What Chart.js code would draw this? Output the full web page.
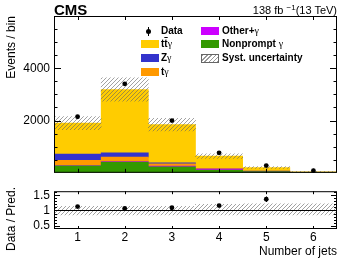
<!DOCTYPE html>
<html>
<head>
<meta charset="utf-8">
<script src="https://cdn.jsdelivr.net/npm/chart.js@4.4.1/dist/chart.umd.min.js"></script>
<style>
    body { margin: 0; background: #fff; }
    #wrap { position: relative; width: 349px; height: 261px; overflow: hidden; font-family: "Liberation Sans", Arial, sans-serif; color: #000; }
    canvas { position: absolute; left: 0; }
    .txt { position: absolute; white-space: nowrap; }
    .leg { position: absolute; font-weight: bold; font-size: 10px; line-height: 10px; white-space: nowrap; }
    .box { position: absolute; width: 18px; height: 8px; }
    .g { font-family: "Liberation Serif", "DejaVu Serif", serif; font-weight: normal; }
</style>
</head>
<body>
<div id="wrap">
    <canvas id="mainChart" width="349" height="184" style="top:0"></canvas>
    <canvas id="ratioChart" width="349" height="81" style="top:180px"></canvas>

    <div class="txt" style="left:54px; top:2px; font-size:15px; line-height:15px; font-weight:bold;">CMS</div>
    <div class="txt" style="right:12px; top:5px; font-size:11px; line-height:11px;">138 fb <span style="position:relative; top:-4px; font-size:8px;">&minus;1</span>(13 TeV)</div>
    <div class="txt" style="left:11px; top:219px; font-size:12px; line-height:12px; transform: translate(-50%, -50%) rotate(-90deg);">Data / Pred.</div>

    <!-- legend, left column -->
    <div style="position:absolute; left:148px; top:27px; width:1px; height:9px; background:#000;"></div>
    <div style="position:absolute; left:146px; top:29px; width:5px; height:5px; border-radius:50%; background:#000;"></div>
    <div class="leg" style="left:161px; top:26px;">Data</div>
    <div class="box" style="left:141px; top:40px; background:#ffcc00;"></div>
    <div class="leg" style="left:161px; top:39px;">t<span style="text-decoration:overline">t</span><span class="g">&gamma;</span></div>
    <div class="box" style="left:141px; top:54px; background:#3333cc;"></div>
    <div class="leg" style="left:161px; top:53px;">Z<span class="g">&gamma;</span></div>
    <div class="box" style="left:141px; top:68px; background:#ff9900;"></div>
    <div class="leg" style="left:161px; top:67px;">t<span class="g">&gamma;</span></div>

    <!-- legend, right column -->
    <div class="box" style="left:201px; top:27px; background:#cc00ff;"></div>
    <div class="leg" style="left:222px; top:26px;">Other+<span class="g">&gamma;</span></div>
    <div class="box" style="left:201px; top:40px; background:#339900;"></div>
    <div class="leg" style="left:222px; top:39px;">Nonprompt <span class="g">&gamma;</span></div>
    <div class="box" style="left:201px; top:54px; width:16px; height:7px; border:1px solid #666; background: repeating-linear-gradient(-45deg, #999 0 1px, #fff 1px 3px);"></div>
    <div class="leg" style="left:222px; top:53px;">Syst. uncertainty</div>
</div>

<script>
// Number of jets bins
const jetBins = ['1', '2', '3', '4', '5', '6'];

// Observed data (events / bin)
const dataEvents = [2145, 3405, 2000, 765, 275, 83];
const dataErr = [46, 58, 45, 28, 17, 9];

// Predicted contributions, bottom of the stack first
const nonprompt = [262, 406, 230, 108, 47, 10];
const otherGamma = [18, 19, 30, 30, 8, 2];
const tgamma = [198, 175, 81, 25, 7, 2];
const zgamma = [241, 165, 43, 6, 3, 1];
const ttgamma = [1185, 2422, 1459, 471, 135, 25];
const predUnc = [250, 450, 240, 90, 35, 10];

// Ratio panel
const ratioVals = [1.13, 1.07, 1.09, 1.16, 1.37, 2.1];
const ratioErr = [0.025, 0.02, 0.025, 0.04, 0.09, 0.2];
const ratioUncUp = [0.14, 0.14, 0.14, 0.2, 0.22, 0.22];
const ratioUncDown = [0.15, 0.15, 0.15, 0.15, 0.15, 0.15];

// Tick labels
const mainTickLabels = [2000, 4000];
const ratioTickLabels = [0.5, 1, 1.5];

Chart.defaults.font.family = "'Liberation Sans', Arial, sans-serif";
Chart.defaults.font.size = 12;
Chart.defaults.color = '#000';

function hatchPattern(color) {
    const c = document.createElement('canvas');
    c.width = 4;
    c.height = 4;
    const g = c.getContext('2d');
    g.strokeStyle = color;
    g.lineWidth = 1;
    g.beginPath();
    g.moveTo(0, 4); g.lineTo(4, 0);
    g.moveTo(-1, 1); g.lineTo(1, -1);
    g.moveTo(3, 5); g.lineTo(5, 3);
    g.stroke();
    return g.createPattern(c, 'repeat');
}

const hatch = hatchPattern('rgba(100,100,100,0.6)');

const predTotal = jetBins.map((_, i) => nonprompt[i] + otherGamma[i] + tgamma[i] + zgamma[i] + ttgamma[i]);
const predBand = jetBins.map((_, i) => [predTotal[i] - predUnc[i], predTotal[i] + predUnc[i]]);
const ratioBand = jetBins.map((_, i) => [1 - ratioUncDown[i], 1 + ratioUncUp[i]]);

// frame, inward ticks and error bars, ROOT style
function frameTicks(cfg) {
    return {
        id: 'frameTicks',
        afterDatasetsDraw(chart) {
            const { ctx, chartArea: a, scales } = chart;
            const ys = scales.y, xs = scales.x;
            ctx.save();
            ctx.strokeStyle = '#000';
            ctx.lineWidth = 1;

            // error bars on the data points
            ctx.save();
            ctx.beginPath();
            ctx.rect(a.left, a.top, a.right - a.left, a.bottom - a.top);
            ctx.clip();
            ctx.beginPath();
            cfg.points.forEach((v, i) => {
                const px = Math.round(xs.getPixelForValue(i)) + 0.5;
                ctx.moveTo(px, ys.getPixelForValue(v - cfg.errors[i]));
                ctx.lineTo(px, ys.getPixelForValue(v + cfg.errors[i]));
            });
            ctx.stroke();
            ctx.restore();

            ctx.beginPath();
            if (cfg.refLine !== undefined) {
                const py = Math.round(ys.getPixelForValue(cfg.refLine)) + 0.5;
                ctx.moveTo(a.left, py);
                ctx.lineTo(a.right, py);
            }
            for (let v = cfg.yMin; v <= cfg.yMax + 1e-9; v += cfg.yMinorStep) {
                const py = Math.round(ys.getPixelForValue(v)) + 0.5;
                if (py < a.top || py > a.bottom) continue;
                const major = Math.abs(v / cfg.yMajorStep - Math.round(v / cfg.yMajorStep)) < 1e-6;
                const len = major ? cfg.yMajorLen : cfg.yMinorLen;
                ctx.moveTo(a.left, py); ctx.lineTo(a.left + len, py);
                ctx.moveTo(a.right, py); ctx.lineTo(a.right - len, py);
            }
            jetBins.forEach((_, i) => {
                const px = Math.round(xs.getPixelForValue(i)) + 0.5;
                ctx.moveTo(px, a.bottom); ctx.lineTo(px, a.bottom - cfg.xLen);
                ctx.moveTo(px, a.top); ctx.lineTo(px, a.top + cfg.xLen);
            });
            ctx.stroke();
            ctx.strokeRect(a.left + 0.5, a.top + 0.5, a.right - a.left - 1, a.bottom - a.top - 1);
            ctx.restore();
        }
    };
}

const barCommon = {
    type: 'bar',
    grouped: false,
    barPercentage: 1,
    categoryPercentage: 1,
    borderWidth: 0,
    stack: 'mc'
};

new Chart(document.getElementById('mainChart'), {
    type: 'bar',
    data: {
        labels: jetBins,
        datasets: [
            { type: 'line', label: 'Data', data: dataEvents, showLine: false, pointRadius: 2.4, pointBackgroundColor: '#000', pointBorderWidth: 0 },
            { type: 'bar', label: 'Syst. uncertainty', data: predBand, grouped: false, barPercentage: 1, categoryPercentage: 1, borderWidth: 0, stack: 'unc', backgroundColor: hatch },
            { ...barCommon, label: 'Nonprompt γ', data: nonprompt, backgroundColor: '#339900' },
            { ...barCommon, label: 'Other+γ', data: otherGamma, backgroundColor: '#cc00ff' },
            { ...barCommon, label: 'tγ', data: tgamma, backgroundColor: '#ff9900' },
            { ...barCommon, label: 'Zγ', data: zgamma, backgroundColor: '#3333cc' },
            { ...barCommon, label: 'ttγ', data: ttgamma, backgroundColor: '#ffcc00' }
        ]
    },
    options: {
        responsive: false,
        animation: false,
        layout: { padding: { top: 16, right: 12, bottom: 1, left: 0 } },
        plugins: { legend: { display: false }, tooltip: { enabled: false } },
        scales: {
            x: { display: false, stacked: true, offset: true },
            y: {
                stacked: true,
                min: 0,
                max: 6000,
                afterBuildTicks: s => { s.ticks = mainTickLabels.map(v => ({ value: v })); },
                afterFit: s => { s.width = 54; },
                grid: { display: false, drawTicks: false },
                border: { display: false },
                ticks: { padding: 4, callback: v => String(v) },
                title: { display: true, text: 'Events / bin', align: 'end', font: { size: 12 }, padding: { top: 4, bottom: 4 } }
            }
        }
    },
    plugins: [frameTicks({
        points: dataEvents, errors: dataErr,
        yMin: 0, yMax: 6000, yMinorStep: 500, yMajorStep: 2000, yMajorLen: 7, yMinorLen: 3.5, xLen: 4
    })]
});

new Chart(document.getElementById('ratioChart'), {
    type: 'bar',
    data: {
        labels: jetBins,
        datasets: [
            { type: 'line', label: 'Data / Pred.', data: ratioVals, showLine: false, pointRadius: 2.4, pointBackgroundColor: '#000', pointBorderWidth: 0 },
            { type: 'bar', label: 'Syst. uncertainty', data: ratioBand, grouped: false, barPercentage: 1, categoryPercentage: 1, borderWidth: 0, backgroundColor: hatch }
        ]
    },
    options: {
        responsive: false,
        animation: false,
        layout: { padding: { top: 3, right: 12, bottom: 0, left: 0 } },
        plugins: { legend: { display: false }, tooltip: { enabled: false } },
        scales: {
            x: {
                offset: true,
                afterFit: s => { s.height = 32; },
                grid: { display: false, drawTicks: false },
                border: { display: false },
                ticks: { padding: 1, font: { size: 12 } },
                title: { display: true, text: 'Number of jets', align: 'end', font: { size: 12 }, padding: { top: 2, bottom: 2 } }
            },
            y: {
                min: 0.39,
                max: 1.635,
                afterBuildTicks: s => { s.ticks = ratioTickLabels.map(v => ({ value: v })); },
                afterFit: s => { s.width = 54; },
                grid: { display: false, drawTicks: false },
                border: { display: false },
                ticks: { padding: 4, callback: v => String(v) }
            }
        }
    },
    plugins: [frameTicks({
        points: ratioVals, errors: ratioErr, refLine: 1,
        yMin: 0.4, yMax: 1.6, yMinorStep: 0.1, yMajorStep: 0.5, yMajorLen: 6, yMinorLen: 3, xLen: 3
    })]
});
</script>
</body>
</html>
